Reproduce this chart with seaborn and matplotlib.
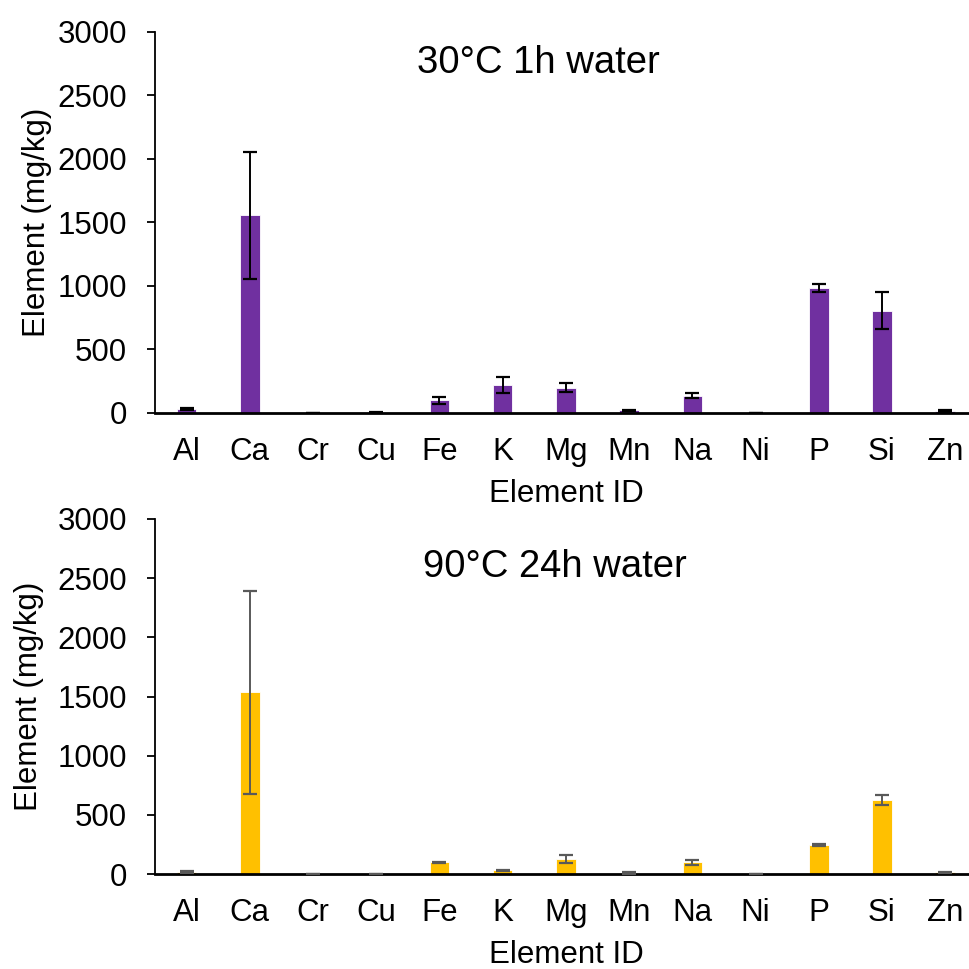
import matplotlib
matplotlib.use("Agg")
import matplotlib.pyplot as plt
import seaborn as sns
import pandas as pd

elements = ["Al", "Ca", "Cr", "Cu", "Fe", "K", "Mg", "Mn", "Na", "Ni", "P", "Si", "Zn"]
vals_30c = [30, 1555, 2, 4, 100, 220, 200, 22, 135, 0, 985, 805, 16]
err_30c = [10, 500, 1, 2, 28, 60, 35, 5, 20, 0, 30, 145, 5]
vals_90c = [17, 1535, 1, 1, 100, 30, 125, 10, 100, 1, 245, 625, 15]
err_90c = [5, 855, 1, 1, 5, 5, 35, 10, 20, 1, 5, 40, 5]

titles = ["30°C 1h water", "90°C 24h water"]
colors = ["#7030A0", "#FFC000"]
err_colors = ["#000000", "#595959"]

sns.set_style("white")
plt.rcParams["font.family"] = ["Liberation Sans", "DejaVu Sans"]
plt.rcParams["text.color"] = "black"
plt.rcParams["axes.labelcolor"] = "black"

fig = plt.figure(figsize=(9.69, 9.69), dpi=100)
ax1 = fig.add_axes([0.16, 0.5738, 0.848, 0.3932])
ax2 = fig.add_axes([0.16, 0.098, 0.848, 0.3664])

specs = [
    (ax1, vals_30c, err_30c, titles[0], colors[0], err_colors[0], (0.466, 0.919), (-0.125, 0.5)),
    (ax2, vals_90c, err_90c, titles[1], colors[1], err_colors[1], (0.487, 0.865), (-0.135, 0.5)),
]

for ax, vals, errs, title, col, ecol, tpos, ylpos in specs:
    df = pd.DataFrame({"Element": elements, "Value": vals})
    sns.barplot(data=df, x="Element", y="Value", color=col, saturation=1,
                width=0.31, errorbar=None, ax=ax, edgecolor="white", linewidth=0.6)
    ax.errorbar(x=list(range(len(elements))), y=vals, yerr=errs, fmt="none",
                ecolor=ecol, elinewidth=1.4, capsize=5, capthick=1.6, zorder=5)
    ax.set_xlim(-0.5, len(elements) - 0.5)
    ax.set_ylim(0, 3000)
    ax.set_yticks([0, 500, 1000, 1500, 2000, 2500, 3000])
    ax.tick_params(axis="y", direction="out", length=6, width=1.3, pad=14, labelsize=22.5,
                   left=True, colors="black")
    ax.tick_params(axis="x", length=0, pad=17, labelsize=22.5, colors="black")
    ax.set_xlabel("Element ID", fontsize=22.5, labelpad=9)
    ax.set_ylabel("Element (mg/kg)", fontsize=22.5)
    ax.yaxis.set_label_coords(*ylpos)
    for s in ["top", "right"]:
        ax.spines[s].set_visible(False)
    ax.spines["left"].set_linewidth(1.3)
    ax.spines["left"].set_color("black")
    ax.spines["bottom"].set_linewidth(2.0)
    ax.spines["bottom"].set_color("black")
    ax.text(tpos[0], tpos[1], title, transform=ax.transAxes, ha="center", va="center", fontsize=27.5)

fig.savefig("out.png", dpi=100)
